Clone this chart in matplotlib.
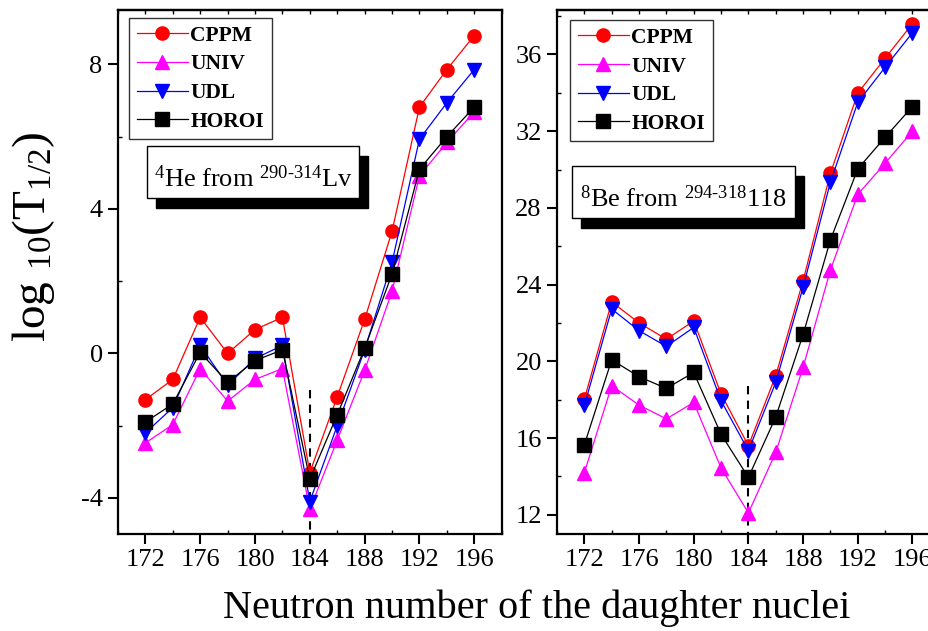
import numpy as np
import matplotlib
matplotlib.use("Agg")
import matplotlib.pyplot as plt
from matplotlib.patches import Rectangle
from matplotlib.ticker import MultipleLocator

plt.rcParams['font.family'] = ['Liberation Serif', 'DejaVu Serif']
plt.rcParams['mathtext.fontset'] = 'custom'
plt.rcParams['mathtext.rm'] = 'Liberation Serif'
plt.rcParams['mathtext.it'] = 'Liberation Serif'
plt.rcParams['axes.unicode_minus'] = False

N = [172, 174, 176, 178, 180, 182, 184, 186, 188, 190, 192, 194, 196]

# 4He from Lv
he_cppm = [-1.28, -0.72, 1.0, 0.0, 0.66, 1.0, -3.3, -1.2, 0.94, 3.38, 6.82, 7.86, 8.8]
he_univ = [-2.48, -1.97, -0.42, -1.32, -0.72, -0.42, -4.32, -2.4, -0.47, 1.72, 4.92, 5.84, 6.69]
he_udl = [-2.2, -1.5, 0.22, -0.88, -0.14, 0.22, -4.1, -2.0, 0.1, 2.52, 5.93, 6.94, 7.86]
he_horoi = [-1.9, -1.4, 0.03, -0.8, -0.2, 0.1, -3.48, -1.7, 0.14, 2.2, 5.1, 6.0, 6.82]

# 8Be from 118
be_cppm = [18.03, 23.1, 22.0, 21.16, 22.1, 18.3, 15.6, 19.25, 24.2, 29.8, 33.98, 35.8, 37.6]
be_univ = [14.2, 18.73, 17.72, 17.0, 17.86, 14.44, 12.1, 15.25, 19.68, 24.76, 28.7, 30.33, 32.0]
be_udl = [17.7, 22.73, 21.6, 20.78, 21.77, 17.95, 15.34, 18.9, 23.86, 29.34, 33.5, 35.33, 37.13]
be_horoi = [15.65, 20.08, 19.2, 18.59, 19.42, 16.2, 13.95, 17.1, 21.4, 26.33, 30.03, 31.68, 33.28]

styles = [("CPPM", 'o', '#ff0000'),
          ("UNIV", '^', '#ff00ff'),
          ("UDL", 'v', '#0000ff'),
          ("HOROI", 's', '#000000')]

fig = plt.figure(figsize=(9.29, 6.31), dpi=100)
ax1 = fig.add_axes([0.127, 0.1537, 0.413, 0.830])
ax2 = fig.add_axes([0.5996, 0.1537, 0.412, 0.830])


def draw(ax, series, ylim, ymaj, dash, label, box):
    for (name, mk, c), y in zip(styles, series):
        ax.plot(N, y, color=c, lw=0.9, marker=mk, ms=9.5, mec=c, mfc=c, label=name)
    ax.plot([184, 184], dash, 'k--', lw=1.5, dashes=(4, 3), clip_on=False, zorder=1)
    ax.set_xlim(170, 198)
    ax.set_ylim(*ylim)
    ax.xaxis.set_major_locator(MultipleLocator(4))
    ax.xaxis.set_minor_locator(MultipleLocator(2))
    ax.yaxis.set_major_locator(MultipleLocator(ymaj))
    ax.yaxis.set_minor_locator(MultipleLocator(ymaj / 2))
    ax.tick_params(which='major', direction='out', length=7, width=1.5, labelsize=19, pad=4)
    ax.tick_params(which='minor', direction='in', length=3, width=1)
    ax.tick_params(which='both', top=False, right=False)
    for s in ax.spines.values():
        s.set_linewidth(1.6)
    # inward mirror ticks along the top
    sec = ax.secondary_xaxis('top')
    sec.xaxis.set_major_locator(MultipleLocator(2))
    sec.tick_params(direction='in', length=3, width=1, labeltop=False)
    sec.spines['top'].set_linewidth(1.6)
    leg = ax.legend(loc='upper left', bbox_to_anchor=box[0], borderaxespad=0,
                    prop={'weight': 'bold', 'size': 15.5}, handlelength=2.4,
                    handletextpad=0.1, labelspacing=0.4, borderpad=0.35,
                    fancybox=False, framealpha=1)
    leg.get_frame().set_edgecolor('#333333')
    leg.get_frame().set_linewidth(1.0)
    x0, y0, w, h = box[1]
    ax.add_patch(Rectangle((x0 + 0.024, y0 - 0.018), w, h, transform=ax.transAxes,
                           facecolor='black', edgecolor='black', zorder=5))
    ax.add_patch(Rectangle((x0, y0), w, h, transform=ax.transAxes,
                           facecolor='white', edgecolor='black', lw=1.0, zorder=6))
    ax.text(x0 + w / 2, y0 + h / 2 - 0.012, label, transform=ax.transAxes,
            ha='center', va='center', fontsize=19, zorder=7)


draw(ax1, [he_cppm, he_univ, he_udl, he_horoi], (-5, 9.5), 4, (-1.0, -5.3),
     r"$^{4}$He from $^{290\text{-}314}$Lv",
     ((0.029, 0.985), (0.0755, 0.641, 0.553, 0.099)))
draw(ax2, [be_cppm, be_univ, be_udl, be_horoi], (11, 38.3), 4, (18.7, 10.4),
     r"$^{8}$Be from $^{294\text{-}318}$118",
     ((0.034, 0.981), (0.039, 0.603, 0.582, 0.099)))

fig.text(0.578, 0.036, "Neutron number of the daughter nuclei", ha='center', va='center', fontsize=29)
fig.text(0.036, 0.625, r"log $_{10}$(T$_{1/2}$)", ha='center', va='center', rotation=90, fontsize=34)

fig.savefig("out.png", dpi=100)
